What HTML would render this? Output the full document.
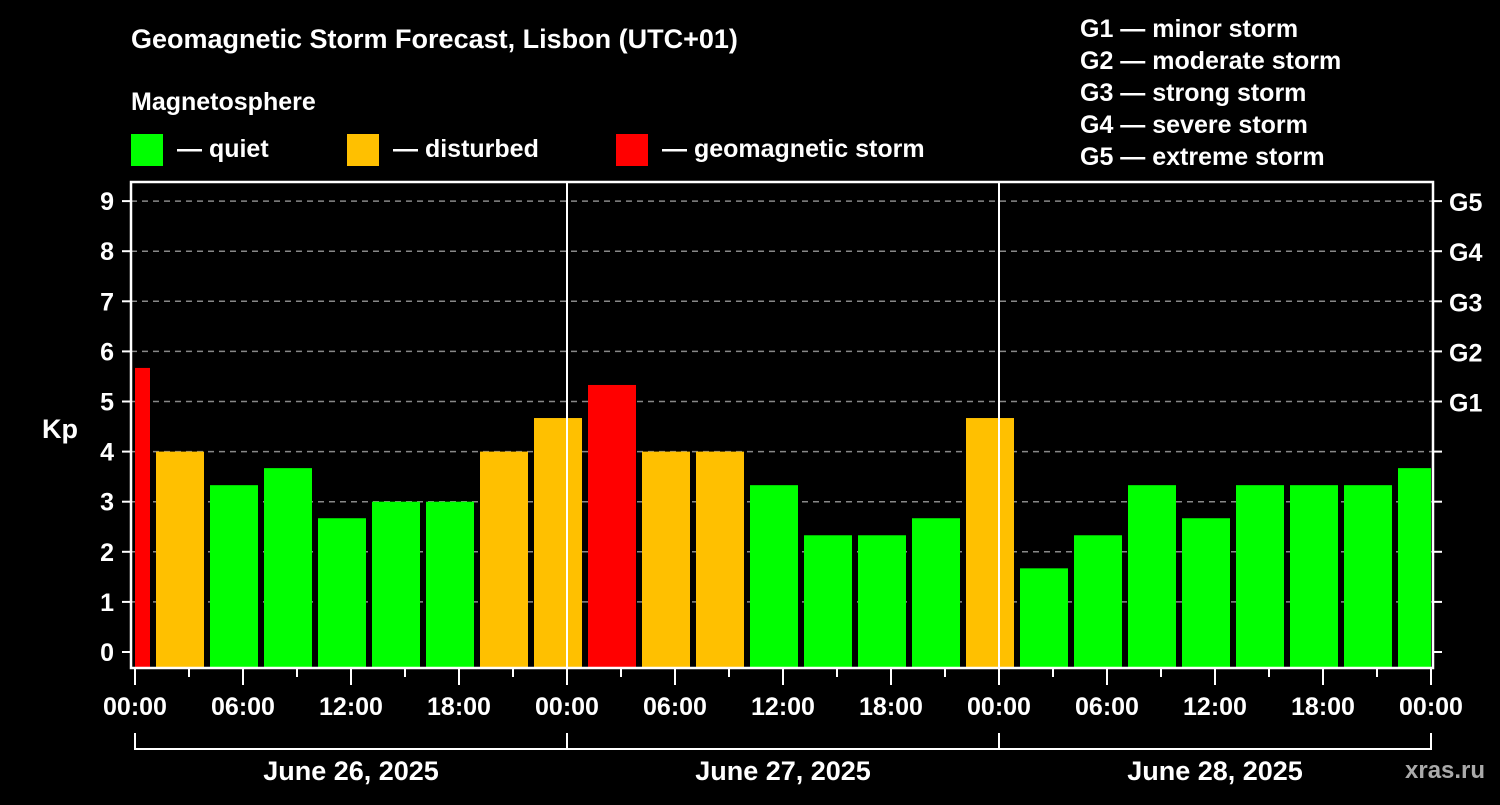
<!DOCTYPE html>
<html><head><meta charset="utf-8"><style>
body{margin:0;background:#000;width:1500px;height:800px;overflow:hidden}
svg{font-family:"Liberation Sans",Arial,sans-serif;font-weight:bold}
</style></head><body>
<svg id="chart" width="1500" height="800">
<rect width="1500" height="800" fill="#000"/>
<text x="131" y="48" fill="#fff" font-size="27">Geomagnetic Storm Forecast, Lisbon (UTC+01)</text>
<text x="131" y="110" fill="#fff" font-size="25">Magnetosphere</text>
<g><rect x="131" y="134" width="32" height="32" fill="#00ff00"/><text x="177" y="157" fill="#fff" font-size="25">— quiet</text></g>
<g><rect x="347" y="134" width="32" height="32" fill="#ffc000"/><text x="393" y="157" fill="#fff" font-size="25">— disturbed</text></g>
<g><rect x="616" y="134" width="32" height="32" fill="#ff0000"/><text x="662" y="157" fill="#fff" font-size="25">— geomagnetic storm</text></g>
<g fill="#fff" font-size="25">
<text x="1080" y="37">G1 — minor storm</text>
<text x="1080" y="69">G2 — moderate storm</text>
<text x="1080" y="101">G3 — strong storm</text>
<text x="1080" y="133">G4 — severe storm</text>
<text x="1080" y="165">G5 — extreme storm</text>
</g>
<text x="42" y="438" fill="#fff" font-size="27">Kp</text>
<text x="1405" y="778" fill="#aaa" font-size="24">xras.ru</text>
<g id="plot"></g>
</svg>
<script>
const kpValues=[5.67,4,3.33,3.67,2.67,3,3,4,4.67,5.33,4,4,3.33,2.33,2.33,2.67,4.67,1.67,2.33,3.33,2.67,3.33,3.33,3.33,3.67];
const barStartHours=[-2,1,4,7,10,13,16,19,22,25,28,31,34,37,40,43,46,49,52,55,58,61,64,67,70];
const yTicks=[0,1,2,3,4,5,6,7,8,9];
const gLabels=["G1","G2","G3","G4","G5"];
const gKp=[5,6,7,8,9];
const timeLabels=["00:00","06:00","12:00","18:00","00:00","06:00","12:00","18:00","00:00","06:00","12:00","18:00","00:00"];
const dateLabels=["June 26, 2025","June 27, 2025","June 28, 2025"];
const NS="http://www.w3.org/2000/svg";
const g=document.getElementById('plot');
const X0=135,PXH=18,HMAX=72,L=131,R=1433,T=182,B=668;
const xs=h=>X0+h*PXH;
const ys=k=>652-50.1*k;
function mk(t,a,txt){const e=document.createElementNS(NS,t);for(const k in a)e.setAttribute(k,a[k]);if(txt!=null)e.textContent=txt;g.appendChild(e);return e;}
// gridlines
yTicks.forEach(k=>{if(k>0){const e=mk('line',{x1:L,x2:R,y1:ys(k),y2:ys(k),stroke:'#888','stroke-width':1.5,'stroke-dasharray':'6,5'});

}
const t=mk('line',{x1:122,x2:L,y1:ys(k),y2:ys(k),stroke:'#fff','stroke-width':2});


const r=mk('line',{x1:R,x2:1442,y1:ys(k),y2:ys(k),stroke:'#fff','stroke-width':2});


const lb=mk('text',{x:114,y:ys(k)+9,fill:'#fff','font-size':25,'text-anchor':'end'},String(k));

});
gLabels.forEach((s,i)=>{const e=mk('text',{x:1449,y:ys(gKp[i])+10,fill:'#fff','font-size':25},s);

});
// bars
kpValues.forEach((v,i)=>{let a=xs(barStartHours[i])+3,b=xs(barStartHours[i]+3)-3;a=Math.max(a,X0);b=Math.min(b,xs(HMAX));
const c=v>=5?'#ff0000':(v>=4?'#ffc000':'#00ff00');
const e=mk('rect',{x:a,y:ys(v),width:b-a,height:B-ys(v),fill:c});

});
// day lines
[24,48].forEach(h=>{const e=mk('line',{x1:xs(h),x2:xs(h),y1:T,y2:B,stroke:'#fff','stroke-width':2});

});
// frame
const f=mk('rect',{x:L,y:T,width:R-L,height:B-T,fill:'none',stroke:'#fff','stroke-width':2.5});


// x ticks
for(let h=0;h<=HMAX;h+=3){const major=h%6===0;const e=mk('line',{x1:xs(h),x2:xs(h),y1:B,y2:major?685:677,stroke:'#fff','stroke-width':2});

}
timeLabels.forEach((s,i)=>{const e=mk('text',{x:xs(i*6),y:715,fill:'#fff','font-size':25,'text-anchor':'middle'},s);

});
const bl=mk('line',{x1:xs(0),x2:xs(HMAX),y1:749,y2:749,stroke:'#fff','stroke-width':2});


[0,24,48,72].forEach(h=>{const e=mk('line',{x1:xs(h),x2:xs(h),y1:733,y2:750,stroke:'#fff','stroke-width':2});

});
dateLabels.forEach((s,i)=>{const e=mk('text',{x:xs(i*24+12),y:780,fill:'#fff','font-size':27,'text-anchor':'middle'},s);

});
</script>
</body></html>
